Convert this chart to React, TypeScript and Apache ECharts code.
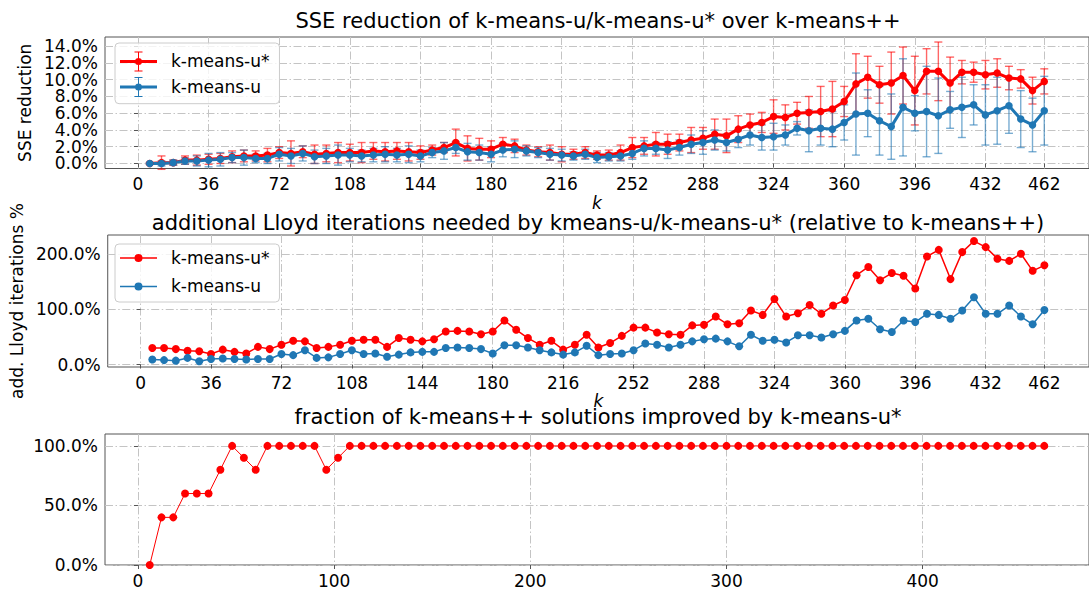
import React, { useEffect, useRef } from 'react';
import * as echarts from 'echarts';

// k values (x)
const K = [6,12,18,24,30,36,42,48,54,60,66,72,78,84,90,96,102,108,114,120,126,132,138,144,150,156,162,168,174,180,186,192,198,204,210,216,222,228,234,240,246,252,258,264,270,276,282,288,294,300,306,312,318,324,330,336,342,348,354,360,366,372,378,384,390,396,402,408,414,420,426,432,438,444,450,456,462];

// SSE reduction (%)
const sseStar = [0.0,0.1,0.1,0.4,0.4,0.5,0.6,0.8,0.9,0.9, 1.0,1.3,1.2,1.4,1.1,1.2,1.3,1.3,1.3,1.5, 1.4,1.5,1.4,1.3,1.6,1.9,2.5,1.8,1.7,1.7, 2.3,2.1,1.6,1.4,1.3,1.1,1.1,1.3,1.0,1.0, 1.3,1.9,2.1,2.3,2.3,2.5,2.8,3.0,3.5,3.3, 4.1,4.6,4.9,5.6,5.5,6.0,6.1,6.2,6.5,7.4, 9.5,10.3,9.4,9.6,10.5,8.7,11.0,11.0,9.6,10.9, 10.9,10.6,10.8,10.2,10.1,8.7,9.8];
const sseStarErr = [0.1,0.8,0.3,0.5,0.6,0.6,0.6,0.7,0.7,0.6, 0.8,0.7,1.5,0.7,1.1,1.0,1.2,1.0,1.2,1.0, 1.1,1.0,1.1,0.8,0.6,0.6,1.6,1.5,1.3,1.0, 0.8,0.8,0.6,0.6,0.9,0.9,0.6,0.7,0.5,0.6, 0.9,1.2,1.0,1.4,1.2,1.0,1.5,1.3,1.8,2.0, 1.6,1.3,1.2,2.0,1.5,1.3,1.9,3.0,3.3,1.8, 3.6,2.5,2.2,3.7,3.4,4.1,2.7,3.5,3.1,1.4, 1.2,1.7,1.7,1.4,1.1,1.6,1.5];
const sseU = [0.0,0.0,0.1,0.3,0.3,0.4,0.5,0.7,0.7,0.6, 0.6,1.1,0.9,1.2,0.8,0.9,1.0,1.0,0.9,1.0, 1.1,1.0,1.1,0.9,1.3,1.5,1.9,1.4,1.3,1.1, 1.6,1.7,1.5,1.3,1.1,1.0,0.9,1.1,0.7,0.8, 0.9,1.2,1.8,1.8,1.6,1.9,2.3,2.5,2.8,2.5, 2.9,3.4,3.1,3.2,3.4,4.2,3.9,4.2,4.1,4.9, 5.9,6.0,5.1,4.4,6.7,6.0,6.2,5.7,6.4,6.7, 7.0,5.8,6.3,6.9,5.3,4.6,6.3];
const sseUErr = [0.1,0.3,0.3,0.4,0.6,0.8,0.8,0.6,0.9,0.5, 0.6,0.8,0.9,0.9,0.8,0.9,1.2,0.8,0.7,0.8, 0.9,0.8,1.0,0.7,0.6,1.0,0.7,1.0,0.9,0.9, 0.8,1.0,0.6,0.6,0.7,0.7,0.5,0.6,0.6,0.5, 0.6,0.7,0.9,0.7,1.0,0.9,1.1,1.4,1.2,1.0, 1.0,1.2,1.5,1.6,1.2,0.8,2.5,2.0,2.1,2.1, 4.9,2.8,4.1,3.9,5.8,2.1,5.4,4.5,2.2,3.6, 2.4,3.6,4.0,3.3,3.4,3.2,4.1];

// additional Lloyd iterations (%)
const lloydStar = [30,30,28,25,24,19,27,23,20,32, 28,36,43,42,30,32,36,43,45,45, 32,48,45,42,46,60,61,60,55,60, 80,63,48,36,43,27,36,54,31,39, 52,67,67,58,55,54,71,72,87,73, 75,98,90,119,87,93,108,92,107,117, 162,177,153,166,161,138,196,208,155,204, 224,213,192,188,201,170,180];
const lloydU = [9,8,7,12,6,10,11,10,9,10, 10,19,17,26,12,13,19,26,19,20, 14,18,22,23,23,30,31,30,28,20, 35,35,31,26,22,18,22,34,17,19, 20,26,38,36,31,36,42,46,47,42, 33,54,43,45,40,53,53,49,55,61, 80,83,64,59,80,77,92,90,83,98, 122,92,92,107,87,73,99];

// fraction improved (%)
const fracImproved = [0,40,40,60,60,60,80,100,90,80, 100,100,100,100,100,80,90,100,100,100, 100,100,100,100,100,100,100,100,100,100, 100,100,100,100,100,100,100,100,100,100, 100,100,100,100,100,100,100,100,100,100, 100,100,100,100,100,100,100,100,100,100, 100,100,100,100,100,100,100,100,100,100, 100,100,100,100,100,100,100];

const kTicksTop = [0,36,72,108,144,180,216,252,288,324,360,396,432,462];
const kTicksBottom = [0,100,200,300,400];
const sseTicks = [0,2,4,6,8,10,12,14];
const sseLabelsA = [0,4,8,12];
const sseLabelsB = [2,6,10,14];
const lloydTicks = [0,100,200];
const fracTicks = [0,50,100];

const TITLES = [
  'SSE reduction of k-means-u/k-means-u* over k-means++',
  'additional Lloyd iterations needed by kmeans-u/k-means-u* (relative to k-means++)',
  'fraction of k-means++ solutions improved by k-means-u*',
];
const NAME_STAR = 'k-means-u*';
const NAME_U = 'k-means-u';

const RED = '#ff0000';
const BLUE = '#1f77b4';
const FONT = 'DejaVu Sans';

const ICON_ERR = 'path://M0 8.5H37V11.5H0Z M18 0H19V20H18Z M14.5 0H22.5V1H14.5Z M14.5 19H22.5V20H14.5Z M15 10A3.5 3.5 0 1 1 22 10A3.5 3.5 0 1 1 15 10Z';
const ICON_LINE = 'path://M0 3.25H37V4.75H0Z M14.5 4A4 4 0 1 1 22.5 4A4 4 0 1 1 14.5 4Z';

function errRender(color: string) {
  return (_params: any, api: any) => {
    const x = api.value(0);
    const y = api.value(1);
    const e = api.value(2);
    const t = api.coord([x, y + e]);
    const b = api.coord([x, y - e]);
    const cw = 4;
    const style = { stroke: color, lineWidth: 1.4, opacity: 0.6 };
    return {
      type: 'group',
      children: [
        { type: 'line', shape: { x1: t[0], y1: t[1], x2: b[0], y2: b[1] }, style },
        { type: 'line', shape: { x1: t[0] - cw, y1: t[1], x2: t[0] + cw, y2: t[1] }, style },
        { type: 'line', shape: { x1: b[0] - cw, y1: b[1], x2: b[0] + cw, y2: b[1] }, style },
      ],
    };
  };
}

const pct = (v: number) => v.toFixed(1) + '%';
const GRID_LINE = { color: '#c4c4c4', width: 1, type: [8, 2.5, 1.5, 2.5] };

function xAxis(i: number, ticks: number[], withName: boolean) {
  return {
    type: 'value', gridIndex: i, min: -16.8, max: 484.8,
    axisLine: { show: false },
    axisTick: { show: true, length: 4, lineStyle: { color: '#555' }, customValues: ticks },
    axisLabel: { customValues: ticks, fontSize: 17, fontFamily: FONT, color: '#000', margin: 7, showMinLabel: true, showMaxLabel: true },
    splitLine: { show: true, lineStyle: GRID_LINE },
    name: withName ? 'k' : '',
    nameLocation: 'middle', nameGap: 29,
    nameTextStyle: { fontStyle: 'italic', fontSize: 17, fontFamily: FONT, color: '#000', lineHeight: 10 },
  };
}

function yAxis(i: number, min: number, max: number, ticks: number[], labels: number[], name: string, gap: number, grid = true) {
  return {
    type: 'value', gridIndex: i, min, max, position: 'left', offset: 0,
    axisLine: { show: false },
    axisTick: { show: grid, length: 4, lineStyle: { color: '#555' }, customValues: ticks },
    axisLabel: { customValues: labels, fontSize: 17, fontFamily: FONT, color: '#000', margin: 7, formatter: pct,
      showMinLabel: true, showMaxLabel: true, hideOverlap: false },
    splitLine: { show: grid, lineStyle: GRID_LINE },
    name, nameLocation: 'middle', nameGap: gap, nameRotate: 90,
    nameTextStyle: { fontSize: 17, fontFamily: FONT, color: '#000' },
  };
}

function legend(top: number, icon: string, itemHeight: number, itemGap: number, padding: number[]) {
  return {
    orient: 'vertical', left: 115, top, selectedMode: false,
    data: [{ name: NAME_STAR, icon }, { name: NAME_U, icon }],
    itemWidth: 37, itemHeight, itemGap, padding,
    backgroundColor: 'rgba(255,255,255,0.8)', borderColor: '#cccccc', borderWidth: 1, borderRadius: 4,
    itemStyle: { borderWidth: 0 },
    textStyle: { fontSize: 17, fontFamily: FONT, color: '#000', lineHeight: 20, padding: [0, 0, 0, 9] },
  };
}

export default function App() {
  const ref = useRef<HTMLDivElement>(null);
  useEffect(() => {
    if (!ref.current) return;
    const chart = echarts.init(ref.current, undefined, { renderer: 'svg' });
    const d2 = (ys: number[]) => K.map((k, i) => [k, ys[i]]);
    const d3 = (ys: number[], es: number[]) => K.map((k, i) => [k, ys[i], es[i]]);
    const gridBase = { show: true, borderColor: '#555', borderWidth: 1, backgroundColor: 'transparent', left: 105, width: 987, containLabel: false };
    const titleText = (text: string, y: number) => ({
      type: 'text', x: 598, y, silent: true,
      style: { text, fontSize: 21, fontFamily: FONT, fill: '#000', align: 'center', verticalAlign: 'middle', lineHeight: 18 },
    });
    const option: any = {
      animation: false,
      backgroundColor: '#ffffff',
      grid: [
        { ...gridBase, top: 37, height: 131.5 },
        { ...gridBase, top: 235, height: 132 },
        { ...gridBase, top: 434, height: 131 },
      ],
      xAxis: [xAxis(0, kTicksTop, true), xAxis(1, kTicksTop, true), xAxis(2, kTicksBottom, false)],
      yAxis: [
        yAxis(0, -0.6, 15.1, sseTicks, sseLabelsA, 'SSE reduction', 60),
        yAxis(1, -4.5, 235, lloydTicks, lloydTicks, 'add. Lloyd iterations %', 77),
        yAxis(2, 0, 110, fracTicks, fracTicks, '', 60),
        yAxis(0, -0.6, 15.1, sseTicks, sseLabelsB, '', 60, false),
      ],
      legend: [
        legend(43, ICON_ERR, 20, 5.6, [8.4, 10, 6.7, 5]),
        legend(244, ICON_LINE, 8, 8.4, [4, 10, 5.6, 5]),
      ],
      graphic: [titleText(TITLES[0], 21), titleText(TITLES[1], 223), titleText(TITLES[2], 417)],
      series: [
        { type: 'custom', name: 'err-star', xAxisIndex: 0, yAxisIndex: 0, silent: true,
          renderItem: errRender(RED), encode: { x: 0, y: 1 }, data: d3(sseStar, sseStarErr) },
        { type: 'line', name: NAME_STAR, xAxisIndex: 0, yAxisIndex: 0, silent: true,
          data: d2(sseStar), color: RED, lineStyle: { width: 3, color: RED }, itemStyle: { color: RED },
          symbol: 'circle', symbolSize: 7.5, showAllSymbol: true },
        { type: 'custom', name: 'err-u', xAxisIndex: 0, yAxisIndex: 0, silent: true,
          renderItem: errRender(BLUE), encode: { x: 0, y: 1 }, data: d3(sseU, sseUErr) },
        { type: 'line', name: NAME_U, xAxisIndex: 0, yAxisIndex: 0, silent: true,
          data: d2(sseU), color: BLUE, lineStyle: { width: 3, color: BLUE }, itemStyle: { color: BLUE },
          symbol: 'circle', symbolSize: 7.5, showAllSymbol: true },
        { type: 'line', name: NAME_STAR, xAxisIndex: 1, yAxisIndex: 1, silent: true,
          data: d2(lloydStar), color: RED, lineStyle: { width: 1.5, color: RED }, itemStyle: { color: RED },
          symbol: 'circle', symbolSize: 8, showAllSymbol: true },
        { type: 'line', name: NAME_U, xAxisIndex: 1, yAxisIndex: 1, silent: true,
          data: d2(lloydU), color: BLUE, lineStyle: { width: 1.5, color: BLUE }, itemStyle: { color: BLUE },
          symbol: 'circle', symbolSize: 8, showAllSymbol: true },
        { type: 'line', name: 'fraction improved', xAxisIndex: 2, yAxisIndex: 2, silent: true,
          data: d2(fracImproved), color: RED, lineStyle: { width: 1, color: RED }, itemStyle: { color: RED },
          symbol: 'circle', symbolSize: 8, showAllSymbol: true, clip: false },
      ],
    };
    chart.setOption(option);
    return () => chart.dispose();
  }, []);
  return <div ref={ref} style={{ position: 'absolute', left: 0, top: 0, width: 1089, height: 590, overflow: 'hidden' }} />;
}
